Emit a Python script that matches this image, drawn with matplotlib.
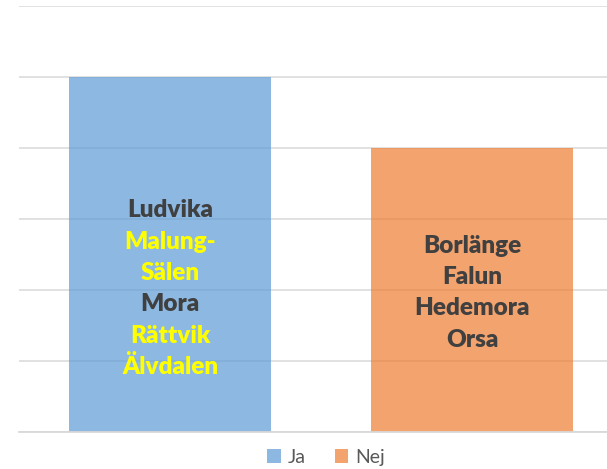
import matplotlib
matplotlib.use("Agg")
import matplotlib.pyplot as plt
from matplotlib.patches import Patch

categories = ["Ja", "Nej"]
values = [5, 4]
colors = ["#5B9BD5", "#ED7D31"]
labels_ja = ["Ludvika", "Malung-", "Sälen", "Mora", "Rättvik", "Älvdalen"]
colors_ja = ["#404040", "#FFFF00", "#FFFF00", "#404040", "#FFFF00", "#FFFF00"]
labels_nej = ["Borlänge", "Falun", "Hedemora", "Orsa"]
colors_nej = ["#404040", "#404040", "#404040", "#404040"]

plt.rcParams['font.family'] = ['Lato', 'DejaVu Sans']

fig = plt.figure(figsize=(6.07, 4.69), dpi=100)
ax = fig.add_axes([19/607, 37/469, 604/607, 426/469])
x = list(range(len(categories)))
ax.bar(x, values, width=0.67, color=colors, alpha=0.7, zorder=2)
ax.set_xlim(-0.5, 1.5)
ax.set_ylim(0, 6)
ax.set_yticks(range(0, 7))
ax.yaxis.grid(True, color="#D9D9D9", linewidth=1.1, zorder=1)
ax.set_axisbelow(True)
for s in ["top", "right", "left"]:
    ax.spines[s].set_visible(False)
ax.spines["bottom"].set_color("#D9D9D9")
ax.spines["bottom"].set_linewidth(1.3)
ax.spines["bottom"].set_zorder(3)
ax.tick_params(left=False, bottom=False, labelleft=False, labelbottom=False)

def block(xc, yc, lines, cols):
    n = len(lines)
    step = 31.3
    for i, (t, c) in enumerate(zip(lines, cols)):
        off = ((n - 1) / 2 - i) * step
        ax.annotate(t, (xc, yc), xytext=(0, off * 72 / 100), textcoords="offset points",
                    ha="center", va="center", fontsize=17.5, fontweight="heavy",
                    color=c, zorder=5)

block(0, 2.02, labels_ja, colors_ja)
block(1, 1.96, labels_nej, colors_nej)

handles = [Patch(facecolor=c, alpha=0.7, edgecolor="none") for c in colors]
leg = fig.legend(handles, categories, loc="center", bbox_to_anchor=(326/607, 1 - 457/469),
                 ncol=2, frameon=False, fontsize=14, handlelength=0.7, handleheight=0.7,
                 handletextpad=0.35, columnspacing=1.5)
for t in leg.get_texts():
    t.set_color("#595959")

fig.savefig("out.png", dpi=100)
